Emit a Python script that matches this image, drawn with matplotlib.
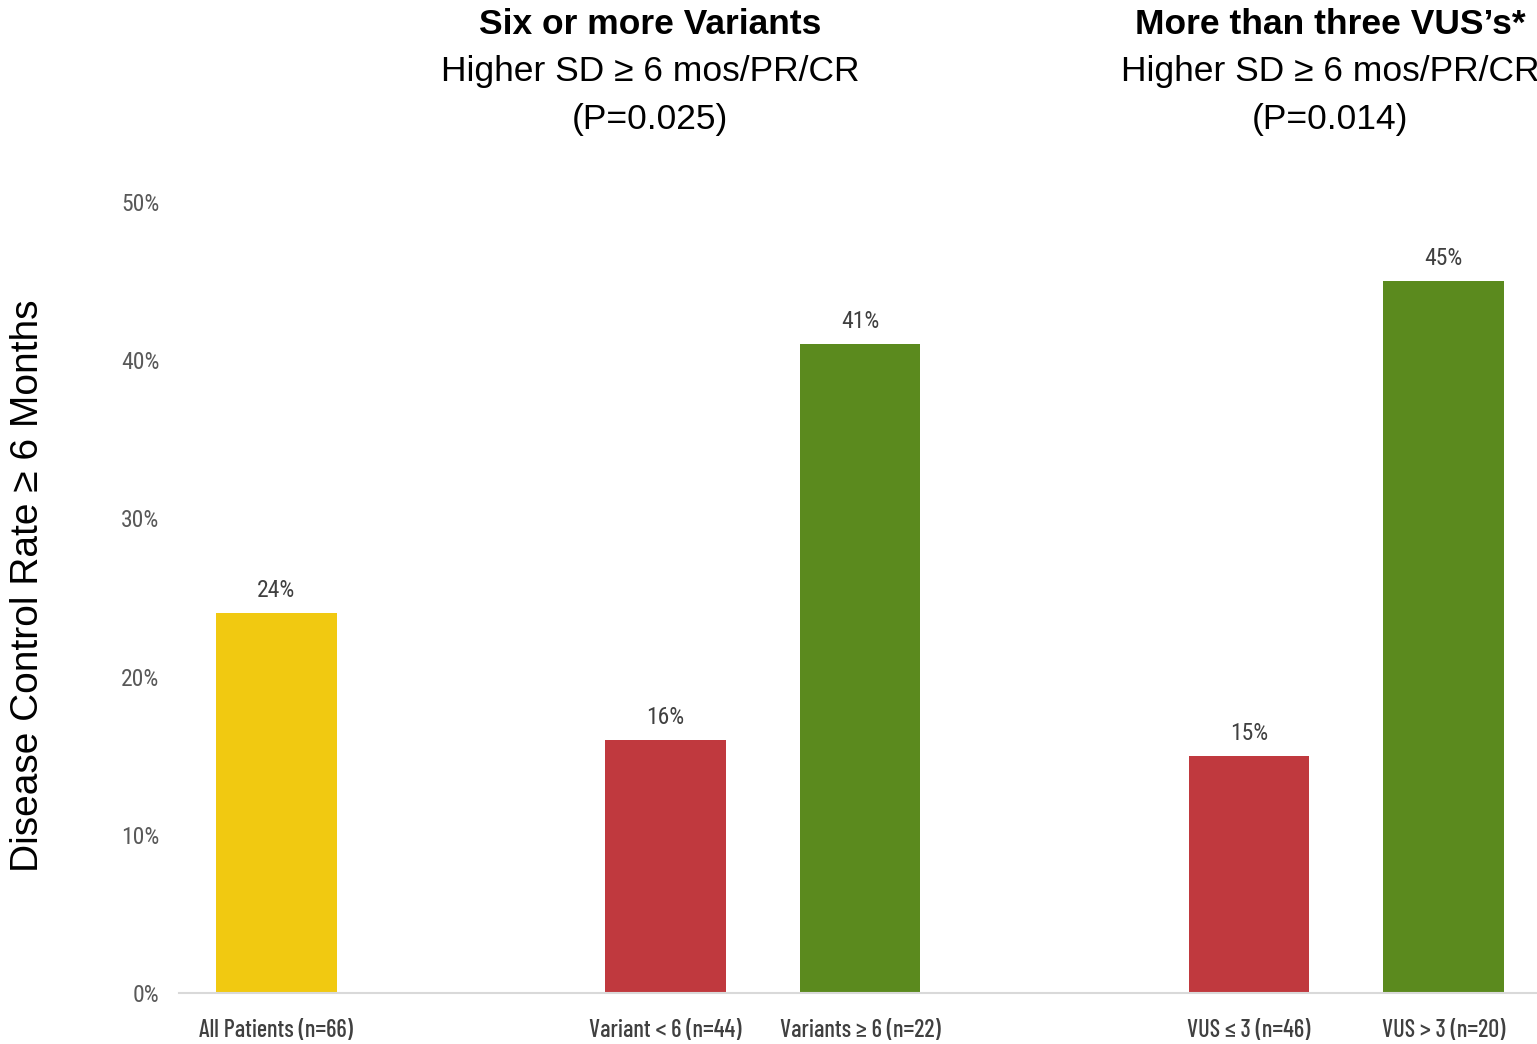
import matplotlib
matplotlib.use('Agg')
import matplotlib.pyplot as plt

# data
categories = ['All Patients (n=66)', 'Variant < 6 (n=44)', 'Variants \u2265 6 (n=22)',
              'VUS \u2264 3 (n=46)', 'VUS > 3 (n=20)']
positions = [0, 2, 3, 5, 6]
values = [24, 16, 41, 15, 45]
colors = ['#F1C911', '#C0393E', '#5B8A1E', '#C0393E', '#5B8A1E']
yticks = [0, 10, 20, 30, 40, 50]

titles = [
    ('Six or more Variants', 'Higher SD \u2265 6 mos/PR/CR', '(P=0.025)', 650),
    ('More than three VUS\u2019s*', 'Higher SD \u2265 6 mos/PR/CR', '(P=0.014)', 1330),
]

narrow = ['Roboto Condensed', 'DejaVu Sans']
xfont = ['Barlow Condensed', 'Roboto Condensed', 'DejaVu Sans']
plt.rcParams['font.family'] = ['Liberation Sans', 'DejaVu Sans']

W, H = 1537, 1044
fig = plt.figure(figsize=(W / 100, H / 100), dpi=100)
ax = fig.add_axes([0.1165, 0.0489, 0.886, 0.7577])

ax.bar(positions, values, width=0.62, color=colors, zorder=2)
for x, v in zip(positions, values):
    ax.text(x, v + 0.7, f'{v}%', ha='center', va='bottom', fontsize=17,
            color='#404040', family=narrow)

ax.set_xlim(-0.5, 6.5)
ax.set_ylim(0, 50)
ax.set_yticks(yticks)
ax.set_yticklabels([f'{t}%' for t in yticks], family=narrow, fontsize=17, color='#595959')
ax.set_xticks(positions)
ax.set_xticklabels(categories, family=xfont, fontsize=17.5, fontweight=500, color='#404040')
ax.tick_params(axis='x', length=0, pad=19)
ax.tick_params(axis='y', length=0, pad=14)

for s in ['top', 'right', 'left']:
    ax.spines[s].set_visible(False)
ax.spines['bottom'].set_color('#D9D9D9')
ax.spines['bottom'].set_linewidth(1.5)

fig.text(28 / W, 1 - 586 / H, 'Disease Control Rate \u2265 6 Months', rotation=90,
         ha='center', va='center', fontsize=28)

for bold, line2, line3, xc in titles:
    fig.text(xc / W, 1 - 24 / H, bold, ha='center', va='center', fontsize=25.5, fontweight='bold')
    fig.text(xc / W, 1 - 72 / H, line2, ha='center', va='center', fontsize=25.5)
    fig.text(xc / W, 1 - 120 / H, line3, ha='center', va='center', fontsize=25.5)

fig.savefig('out.png', dpi=100)
